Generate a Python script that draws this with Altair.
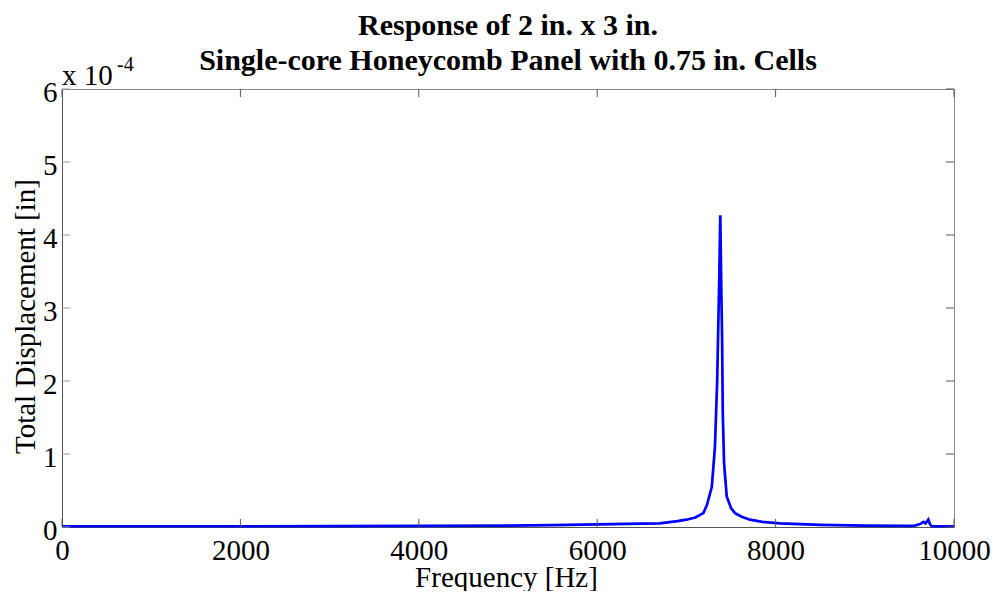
import altair as alt
import pandas as pd

# Frequency response (displacement in units of 1e-4 in)
freq = [0, 1000, 2000, 3000, 4000, 5000, 5500, 6000, 6500, 6700, 6900, 7000, 7100, 7190, 7230,
        7285, 7320, 7345, 7368, 7380, 7392, 7400, 7408, 7422, 7452, 7500, 7545, 7620, 7713,
        7850, 8050, 8500, 9000, 9500, 9560, 9620, 9656, 9680, 9700, 9712, 9730, 9750, 9800, 10000]
disp = [0.01, 0.01, 0.01, 0.012, 0.015, 0.02, 0.025, 0.035, 0.045, 0.05, 0.08, 0.10, 0.13, 0.19, 0.30,
        0.55, 1.1, 2.0, 3.4, 4.27, 3.2, 2.6, 1.56, 0.88, 0.42, 0.26, 0.19, 0.14, 0.10,
        0.07, 0.05, 0.03, 0.02, 0.015, 0.02, 0.04, 0.07, 0.05, 0.08, 0.10, 0.04, 0.01, 0.01, 0.01]

x_ticks = [0, 2000, 4000, 6000, 8000, 10000]
y_ticks = [0, 1, 2, 3, 4, 5, 6]

title_lines = ["Response of 2 in. x 3 in.", "Single-core Honeycomb Panel with 0.75 in. Cells"]
x_title = "Frequency [Hz]"
y_title = "Total Displacement [in]"

W, H = 892, 438
FONT = "Liberation Serif"

df = pd.DataFrame({"f": freq, "d": disp})
xt = pd.DataFrame({"v": x_ticks})
yt = pd.DataFrame({"v": y_ticks})

xscale = alt.Scale(domain=[0, 10000], nice=False, zero=False)
yscale = alt.Scale(domain=[0, 6], nice=False, zero=False)

line = alt.Chart(df).mark_line(color="#0000FF", strokeWidth=2.7).encode(
    x=alt.X("f:Q", scale=xscale,
            axis=alt.Axis(values=x_ticks, format="d", title=x_title, tickSize=0, labelPadding=9,
                          labelFontSize=29, labelFont=FONT, labelColor="#000",
                          titleFont=FONT, titleFontSize=29, titleFontWeight="normal",
                          titleColor="#000", titleX=W / 2 - 2, titleY=50,
                          titleAlign="center", titleBaseline="middle", grid=False,
                          domainColor="#555", labelOverlap=False, labelFlush=False,
                          labelBound=False)),
    y=alt.Y("d:Q", scale=yscale,
            axis=alt.Axis(values=y_ticks, format="d", title=y_title, tickSize=0, labelPadding=5,
                          labelFontSize=29, labelFont=FONT, labelColor="#000",
                          labelOffset=3,
                          titleFont=FONT, titleFontSize=29, titleFontWeight="normal",
                          titleColor="#000", titleX=-37, titleY=H / 2 + 8, titleAngle=270,
                          titleAlign="center", titleBaseline="middle", grid=False,
                          domainColor="#555", labelOverlap=False, labelFlush=False,
                          labelBound=False)),
)

tick_color = "#555"
xb = alt.Chart(xt).mark_rule(color=tick_color, strokeWidth=1).encode(
    x=alt.X("v:Q", scale=xscale), y=alt.value(H), y2=alt.value(H - 8))
xtop = alt.Chart(xt).mark_rule(color=tick_color, strokeWidth=1).encode(
    x=alt.X("v:Q", scale=xscale), y=alt.value(0), y2=alt.value(8))
yl = alt.Chart(yt).mark_rule(color="#999", strokeWidth=1).encode(
    y=alt.Y("v:Q", scale=yscale), x=alt.value(0), x2=alt.value(8))
yr = alt.Chart(yt).mark_rule(color=tick_color, strokeWidth=1).encode(
    y=alt.Y("v:Q", scale=yscale), x=alt.value(W), x2=alt.value(W - 8))

exp_base = alt.Chart(pd.DataFrame({"t": ["x 10"]})).mark_text(
    font=FONT, fontSize=29, align="left", baseline="alphabetic", color="#000"
).encode(text="t:N", x=alt.value(0), y=alt.value(-4))
exp_sup = alt.Chart(pd.DataFrame({"t": ["-4"]})).mark_text(
    font=FONT, fontSize=20, align="left", baseline="alphabetic", color="#000"
).encode(text="t:N", x=alt.value(55), y=alt.value(-18))

title_df = pd.DataFrame({"t": title_lines, "yy": [-63, -28]})
title = alt.Chart(title_df).mark_text(
    font=FONT, fontSize=30, fontWeight="bold", align="center", baseline="middle", color="#000"
).encode(text="t:N", x=alt.value(W / 2), y=alt.Y("yy:Q", scale=None))

chart = alt.layer(line, xb, xtop, yl, yr, exp_base, exp_sup, title).properties(
    width=W, height=H,
    autosize=alt.AutoSizeParams(type="none"),
    padding={"left": 54, "top": 81, "right": 38, "bottom": 64},
).configure_view(stroke="#888", strokeWidth=1)

chart.save("out.html", embed_options={"renderer": "svg", "actions": False})
